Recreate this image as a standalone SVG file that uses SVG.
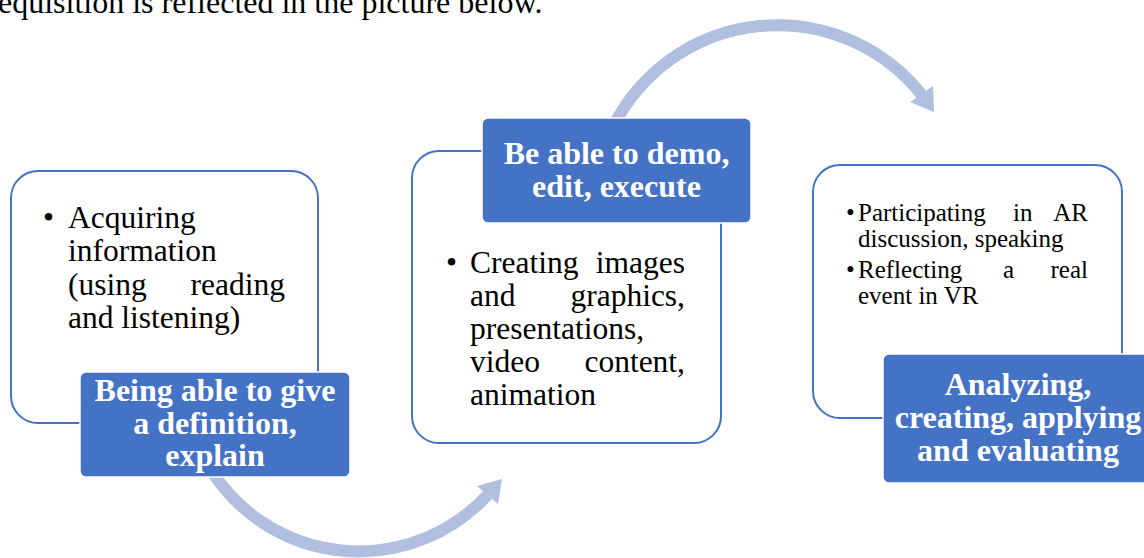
<svg xmlns="http://www.w3.org/2000/svg" width="1144" height="558" viewBox="0 0 1144 558">
<style>
.box{fill:#FFFFFF;stroke:#4472C4;stroke-width:2}
.lab{fill:#4472C4;stroke:#FFFFFF;stroke-width:1.5}
.lt{font-family:"Liberation Serif","Times New Roman",serif;font-weight:bold;font-size:32px;fill:#FFFFFF;text-anchor:middle}
.bt{font-family:"Liberation Serif","Times New Roman",serif;font-size:31.5px;fill:#000000}
.st{font-family:"Liberation Serif","Times New Roman",serif;font-size:25px;fill:#000000}
.end{text-anchor:end}
.arc{fill:none;stroke:#B0BEE0;stroke-width:12}
.head{fill:#B0BEE0}
</style>
<rect width="1144" height="558" fill="#FFFFFF"/>
<text class="bt" x="-2" y="13" style="font-size:32px">equisition is reflected in the picture below.</text>
<g id="connectors">
<path class="arc" d="M 211 470 A 175 175 0 0 0 487.5 495"/>
<polygon class="head" points="477,486 502,479 498,504"/>
<path class="arc" d="M 614 125 A 184 184 0 0 1 921.5 94.5"/>
<polygon class="head" points="910,102 933,86 934,112"/>
</g>
<g id="node1">
<rect class="box" x="11" y="171" width="307" height="252" rx="27"/>
<text class="bt" x="43" y="228">•</text>
<text class="bt" x="68" y="228">Acquiring</text>
<text class="bt" x="68" y="261">information</text>
<text class="bt" x="68" y="295">(using</text>
<text class="bt end" x="285" y="295">reading</text>
<text class="bt" x="68" y="328">and listening)</text>
<rect class="lab" x="80" y="372" width="270" height="105" rx="6"/>
<text class="lt" x="215" y="401">Being able to give</text>
<text class="lt" x="215" y="434">a definition,</text>
<text class="lt" x="215" y="466">explain</text>
</g>
<g id="node2">
<rect class="box" x="412" y="151" width="309" height="292" rx="27"/>
<text class="bt" x="446" y="273">•</text>
<text class="bt" x="470" y="273">Creating</text>
<text class="bt end" x="685" y="273">images</text>
<text class="bt" x="470" y="306">and</text>
<text class="bt end" x="685" y="306">graphics,</text>
<text class="bt" x="470" y="339">presentations,</text>
<text class="bt" x="470" y="372">video</text>
<text class="bt end" x="685" y="372">content,</text>
<text class="bt" x="470" y="405">animation</text>
<rect class="lab" x="482" y="118" width="269" height="105" rx="6"/>
<text class="lt" x="616.5" y="164">Be able to demo,</text>
<text class="lt" x="616.5" y="197">edit, execute</text>
</g>
<g id="node3">
<rect class="box" x="813" y="165" width="309" height="253" rx="27"/>
<text class="st" x="846" y="221">•</text>
<text class="st" x="858" y="221">Participating</text>
<text class="st" x="1013" y="221">in</text>
<text class="st end" x="1088" y="221">AR</text>
<text class="st" x="858" y="247">discussion, speaking</text>
<text class="st" x="846" y="278">•</text>
<text class="st" x="858" y="278">Reflecting</text>
<text class="st" x="1003" y="278">a</text>
<text class="st end" x="1088" y="278">real</text>
<text class="st" x="858" y="304">event in VR</text>
<rect class="lab" x="883" y="354" width="270" height="129" rx="6"/>
<text class="lt" x="1018" y="395">Analyzing,</text>
<text class="lt" x="1018" y="428">creating, applying</text>
<text class="lt" x="1018" y="461">and evaluating</text>
</g>
</svg>
